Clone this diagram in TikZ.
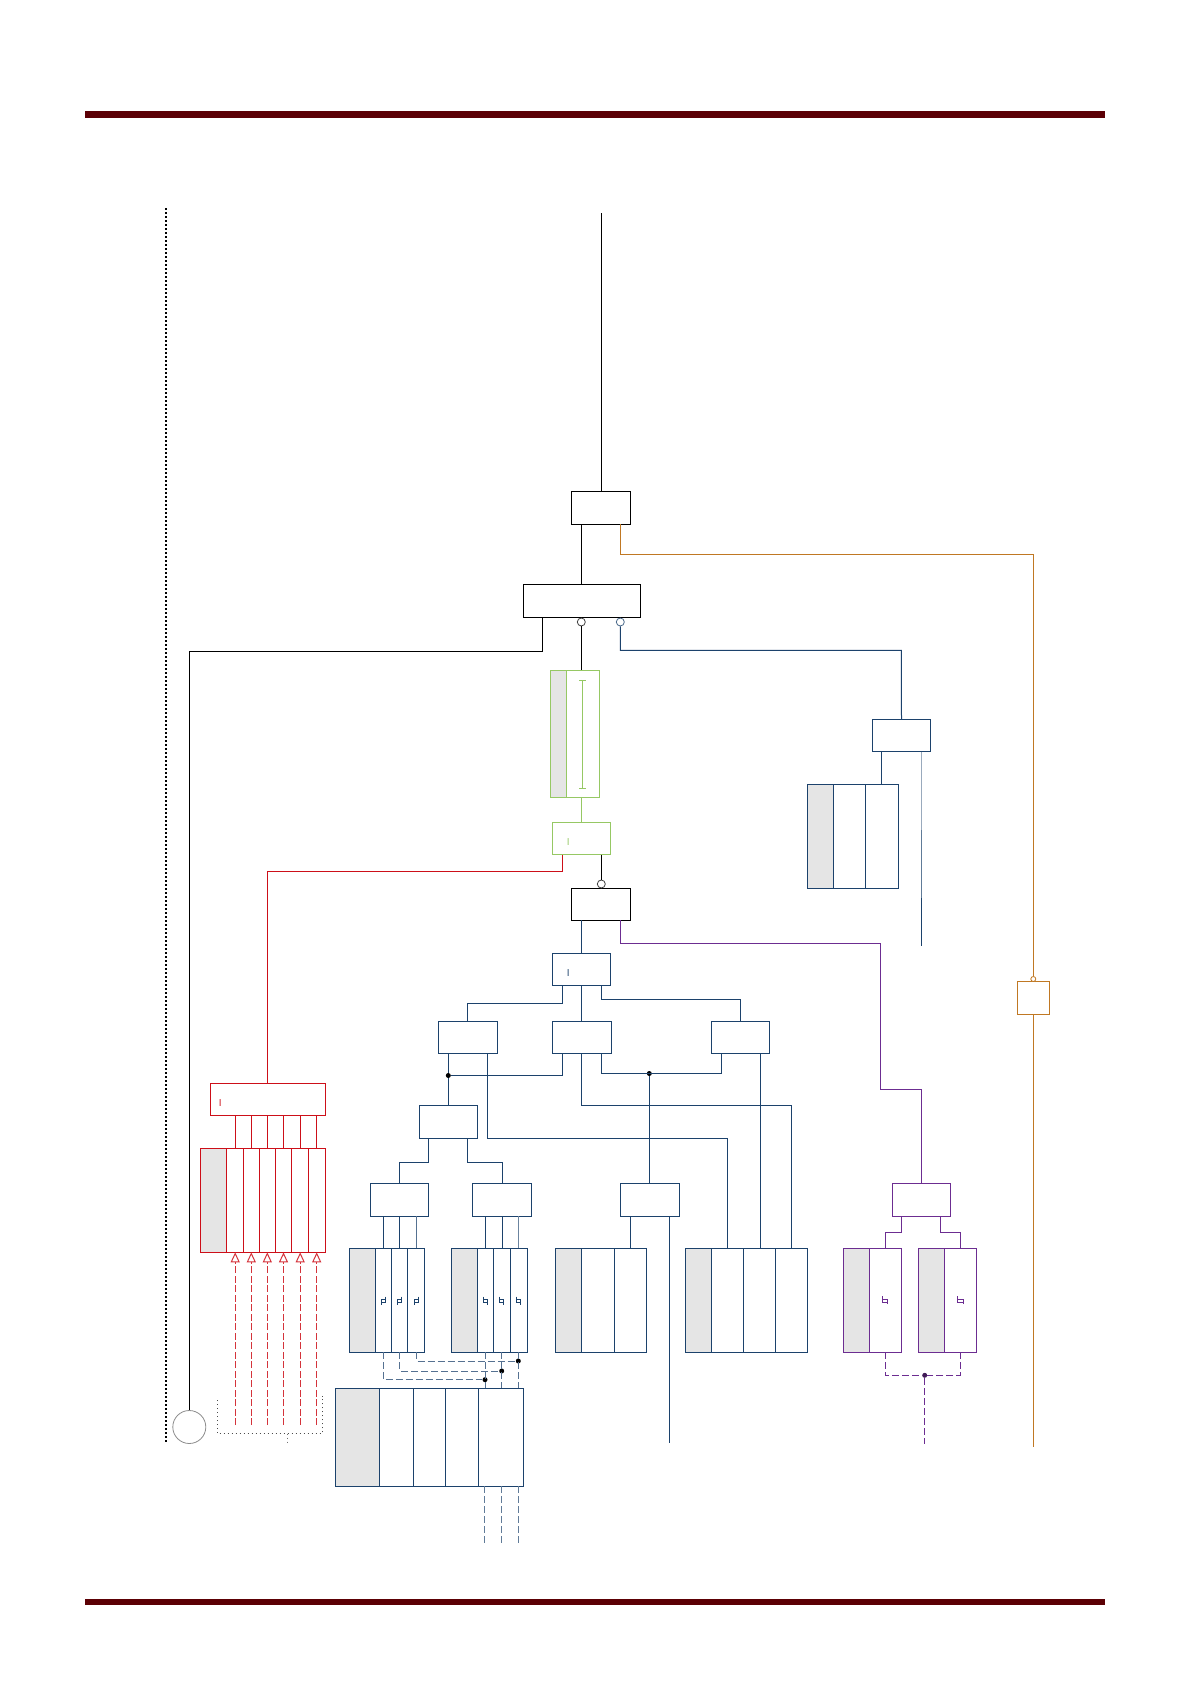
\documentclass[tikz,border=0pt]{standalone}
\usetikzlibrary{arrows.meta}
\definecolor{navyline}{RGB}{28,66,108}
\definecolor{redline}{RGB}{205,15,25}
\definecolor{greenline}{RGB}{150,200,100}
\definecolor{orangeline}{RGB}{192,120,35}
\definecolor{purpleline}{RGB}{108,45,145}
\definecolor{rulered}{RGB}{92,0,5}
\definecolor{shadecell}{RGB}{229,229,229}
\tikzset{
    wire/.style={line width=1pt},
    block/.style={draw, line width=1pt, inner sep=0pt, outer sep=0pt, minimum width=58.5pt, minimum height=32.5pt},
    cell/.style={draw, line width=1pt, inner sep=0pt, outer sep=0pt},
    bubble/.style={circle, draw, line width=.8pt, fill=white, inner sep=0pt, minimum size=8pt},
    joint/.style={circle, fill=black, inner sep=0pt, minimum size=5pt},
    dashwire/.style={line width=1pt, dash pattern=on 7pt off 3pt},
    tickmark/.style={font=\sffamily\fontsize{10}{10}\selectfont, inner sep=0pt},
    hystmark/.pic={
        \draw[line width=.8pt] (-2,4) -- (-2,-1) -- (2,-1);
        \draw[line width=.8pt] (2,-4) -- (2,2) -- (-2,2);
    }
}
% name, colour, left, shade edge, right, top, bottom
\newcommand{\regstack}[7]{
    \node[cell, draw=#2, fill=shadecell, minimum width={#4-#3}, minimum height={#7-#6}] (#1s) at ({(#3+#4)/2},{(#6+#7)/2}) {};
    \node[cell, draw=#2, minimum width={#5-#4}, minimum height={#7-#6}] (#1) at ({(#4+#5)/2},{(#6+#7)/2}) {};
}
\begin{document}
\begin{tikzpicture}[x=1pt, y=-1pt]
    \useasboundingbox (0,0) rectangle (1190,1684);
    \fill[rulered] (85,111) rectangle (1105.3,118);
    \fill[rulered] (85,1599) rectangle (1105.3,1605.3);
    \draw[line width=1.8pt, dash pattern=on 2pt off 2pt] (166.3,208) -- (166.3,1443);

    % upper blocks
    \node[block, minimum width=59pt] (main) at (600.8,507.8) {};
    \node[block, minimum width=117pt] (bus) at (581.8,600.8) {};
    \node[bubble, draw=black!75] (busa) at (581.3,622) {};
    \node[bubble, draw=navyline!80] (busb) at (620.3,622) {};
    \coordinate (feed) at (601.3,213);
    \draw[wire] (feed) -- (feed |- main.north);
    \draw[wire] (581.3,0 |- main.south) -- (581.3,0 |- bus.north);
    \node[cell, draw=greenline, fill=shadecell, minimum width=16pt, minimum height=127pt] (memgs) at (558.3,733.8) {};
    \node[cell, draw=greenline, minimum width=33pt, minimum height=127pt] (memg) at (582.8,733.8) {};
    \draw[greenline, wire] (582.3,680.3) -- (582.3,788.3);
    \draw[greenline, wire] (579,680.3) -- (585.6,680.3);
    \draw[greenline, wire] (579,788.3) -- (585.6,788.3);
    \draw[wire] (busa) -- (581.3,0 |- memg.north);
    \node[block, draw=greenline] (gate) at (581.5,838.3) {};
    \node[tickmark, greenline] (gatemark) at (568.3,842) {I};
    \draw[greenline, wire] (581.3,0 |- memg.south) -- (581.3,0 |- gate.north);
    \node[block, minimum width=59pt, minimum height=32pt] (ctrl) at (600.8,904.3) {};
    \node[bubble, draw=black!75] (ctrla) at (601.3,884) {};
    \draw[wire] (601.3,0 |- gate.south) -- (ctrla);
    \node[block, draw=navyline] (dec) at (581.5,969.3) {};
    \node[tickmark, navyline] (decmark) at (568.3,973) {I};
    \draw[navyline, wire] (581.3,0 |- ctrl.south) -- (581.3,0 |- dec.north);

    % black feed to the pin, gray circle
    \node[circle, draw=black!45, line width=.8pt, inner sep=0pt, minimum size=33pt] (pin) at (189.3,1427) {};
    \draw[wire] (542.3,0 |- bus.south) -- (542.3,651.3) -- (189.3,651.3) -- (pin.north);

    % orange branch
    \node[block, draw=orangeline, minimum width=32.5pt, minimum height=33pt] (clk) at (1033.5,997.8) {};
    \node[bubble, draw=orangeline, fill=white, minimum size=5pt] (clka) at (1033.3,979) {};
    \coordinate (clkout) at (1033.3,1447);
    \draw[orangeline, wire] (620.3,0 |- main.south) -- (620.3,554.3) -- (1033.3,554.3) -- (clka);
    \draw[orangeline, wire] (1033.3,0 |- clk.south) -- (clkout);

    % right navy block and register
    \node[block, draw=navyline] (side) at (901.5,735.3) {};
    \regstack{sidereg}{navyline}{807.3}{833.3}{898.3}{784.3}{888.3}
    \draw[navyline, wire] (865.3,784.3) -- (865.3,888.3);
    \draw[navyline, wire] (busb) -- (620.3,650.3) -- (901.3,650.3) -- (side.north);
    \draw[navyline, wire] (881.3,0 |- side.south) -- (881.3,0 |- sidereg.north);
    \coordinate (sidea) at (921,830);
    \coordinate (sideb) at (921,898);
    \coordinate (sidec) at (921,946);
    \draw[navyline!45, wire] (921,0 |- side.south) -- (sidea);
    \draw[navyline!70, wire] (sidea) -- (sideb);
    \draw[navyline, wire] (sideb) -- (sidec);

    % red group
    \node[block, draw=redline, minimum width=115pt, minimum height=32pt] (irq) at (267.8,1099.3) {};
    \node[tickmark, redline] (irqmark) at (220.3,1103) {I};
    \regstack{irqreg}{redline}{200.7}{226.3}{325.3}{1148.3}{1252.3}
    \foreach \xdiv in {243.3,259.3,275.3,291.3,308.3}
        \draw[redline, wire] (\xdiv,1148.3) -- (\xdiv,1252.3);
    \draw[redline, wire] (562.3,0 |- gate.south) -- (562.3,871.3) -- (267.4,871.3) -- (267.4,0 |- irq.north);
    \foreach \xline in {235.2,251.3,267.3,283.5,300.2,316.7} {
        \draw[redline, wire] (\xline,0 |- irq.south) -- (\xline,0 |- irqreg.north);
        \coordinate (irqin) at (\xline,1425);
        \draw[redline!85, line width=1.3pt, dash pattern=on 7pt off 2.5pt, -{Triangle[open, length=10pt, width=9pt, line width=1pt]}] (irqin) -- (\xline,0 |- irqreg.south);
    }
    \coordinate (bracka) at (217.3,1400);
    \coordinate (brackb) at (217.3,1433.7);
    \coordinate (brackc) at (322.3,1433.7);
    \coordinate (brackd) at (322.3,1396);
    \coordinate (bracke) at (287,1433.7);
    \coordinate (brackf) at (287,1445);
    \draw[black!70, line width=1pt, dash pattern=on 1pt off 3pt] (bracka) -- (brackb) -- (brackc) -- (brackd);
    \draw[black!55, line width=1pt, dash pattern=on 1pt off 3pt] (bracke) -- (brackf);

    % navy tree
    \node[block, draw=navyline, minimum width=59pt, minimum height=32pt] (left) at (467.8,1037.3) {};
    \node[block, draw=navyline, minimum width=59pt, minimum height=32pt] (mid) at (581.8,1037.3) {};
    \node[block, draw=navyline, minimum width=58pt, minimum height=32pt] (right) at (740.3,1037.3) {};
    \node[block, draw=navyline, minimum width=58pt, minimum height=33pt] (sub) at (448.3,1121.8) {};
    \node[block, draw=navyline, minimum width=58pt, minimum height=33pt] (suba) at (399.3,1199.8) {};
    \node[block, draw=navyline, minimum width=59pt, minimum height=33pt] (subb) at (501.8,1199.8) {};
    \node[block, draw=navyline, minimum width=59pt, minimum height=33pt] (subc) at (649.8,1199.8) {};
    \node[joint] (jointl) at (448.3,1075.5) {};
    \node[joint] (jointr) at (649.3,1073.5) {};
    \draw[navyline, wire] (562.3,0 |- dec.south) -- (562.3,1003.3) -- (467.3,1003.3) -- (467.3,0 |- left.north);
    \draw[navyline, wire] (581.5,0 |- dec.south) -- (581.5,0 |- mid.north);
    \draw[navyline, wire] (601.3,0 |- dec.south) -- (601.3,999.3) -- (740.3,999.3) -- (740.3,0 |- right.north);
    \draw[navyline, wire] (448.3,0 |- left.south) -- (jointl) -- (448.3,0 |- sub.north);
    \draw[navyline, wire] (562.3,0 |- mid.south) -- (562.3,1075.5) -- (jointl);
    \draw[navyline, wire] (601.3,0 |- mid.south) -- (601.3,1073.5) -- (721.3,1073.5) -- (721.3,0 |- right.south);
    \draw[navyline, wire] (jointr) -- (649.3,0 |- subc.north);
    \draw[navyline, wire] (428.3,0 |- sub.south) -- (428.3,1162.3) -- (399.3,1162.3) -- (399.3,0 |- suba.north);
    \draw[navyline, wire] (467.3,0 |- sub.south) -- (467.3,1162.3) -- (502.3,1162.3) -- (502.3,0 |- subb.north);

    % registers on the navy tree
    \regstack{rega}{navyline}{349.3}{375.3}{424.3}{1248.3}{1352.3}
    \regstack{regb}{navyline}{451.3}{477.3}{527.3}{1248.3}{1352.3}
    \regstack{regc}{navyline}{555.3}{581.3}{646.3}{1248.3}{1352.3}
    \regstack{regd}{navyline}{685.3}{711.3}{807.3}{1248.3}{1352.3}
    \regstack{rege}{navyline}{335.3}{379.3}{523.3}{1388.3}{1486.3}
    \foreach \xdiv in {391.3,407.3,493.3,510.3,614.3,743.3,775.3}
        \draw[navyline, wire] (\xdiv,1248.3) -- (\xdiv,1352.3);
    \foreach \xdiv in {413.3,445.3,478.3}
        \draw[navyline, wire] (\xdiv,1388.3) -- (\xdiv,1486.3);
    \foreach \xline in {383.3,399.3}
        \draw[navyline, wire] (\xline,0 |- suba.south) -- (\xline,0 |- rega.north);
    \draw[navyline!75, wire] (416.3,0 |- suba.south) -- (416.3,0 |- rega.north);
    \foreach \xline in {485.3,502.3}
        \draw[navyline, wire] (\xline,0 |- subb.south) -- (\xline,0 |- regb.north);
    \draw[navyline!65, wire] (518.3,0 |- subb.south) -- (518.3,0 |- regb.north);
    \draw[navyline, wire] (630.3,0 |- subc.south) -- (630.3,0 |- regc.north);
    \coordinate (subcout) at (669.3,1443.3);
    \draw[navyline, wire] (669.3,0 |- subc.south) -- (subcout);
    \draw[navyline, wire] (487.3,0 |- left.south) -- (487.3,1138.3) -- (727.3,1138.3) -- (727.3,0 |- regd.north);
    \draw[navyline, wire] (581.5,0 |- mid.south) -- (581.5,1105.3) -- (791.3,1105.3) -- (791.3,0 |- regd.north);
    \draw[navyline, wire] (760.3,0 |- right.south) -- (760.3,0 |- regd.north);
    \foreach \xmark in {383,399,416}
        \pic[navyline] at (\xmark,1300.7) {hystmark};
    \foreach \xmark in {485,501.5,518}
        \pic[navyline, xscale=-1] at (\xmark,1300.7) {hystmark};

    % dashed links between registers
    \node[joint] (linka) at (485,1379.7) {};
    \node[joint] (linkb) at (501.7,1371) {};
    \node[joint] (linkc) at (518.3,1361) {};
    \draw[navyline!75, dashwire] (383.3,0 |- rega.south) -- (383.3,1379.7) -- (linka);
    \draw[navyline!75, dashwire] (399.7,0 |- rega.south) -- (399.7,1371) -- (linkb);
    \draw[navyline!75, dashwire] (416.3,0 |- rega.south) -- (416.3,1361) -- (linkc);
    \foreach \xline in {485,501.7,518.3}
        \draw[navyline!75, dashwire] (\xline,0 |- regb.south) -- (\xline,0 |- rege.north);
    \foreach \xline in {484.7,501,518} {
        \coordinate (regeout) at (\xline,1542.7);
        \draw[navyline!70, dashwire] (\xline,0 |- rege.south) -- (regeout);
    }

    % purple branch
    \node[block, draw=purpleline, minimum width=58pt, minimum height=33pt] (tim) at (921.3,1199.8) {};
    \regstack{timl}{purpleline}{843.3}{869.3}{901.7}{1248.3}{1352.3}
    \regstack{timr}{purpleline}{918.3}{944.3}{976.7}{1248.3}{1352.3}
    \draw[purpleline, wire] (620.3,0 |- ctrl.south) -- (620.3,943.3) -- (880.7,943.3) -- (880.7,1089) -- (921.3,1089) -- (tim.north);
    \draw[purpleline, wire] (901.3,0 |- tim.south) -- (901.3,1232.3) -- (885.3,1232.3) -- (885.3,0 |- timl.north);
    \draw[purpleline, wire] (940.3,0 |- tim.south) -- (940.3,1232.3) -- (960.3,1232.3) -- (960.3,0 |- timr.north);
    \pic[purpleline, xscale=-1.3] at (885,1300) {hystmark};
    \pic[purpleline, xscale=-1.5] at (960,1300) {hystmark};
    \node[joint, fill=purpleline!60!black] (timjoint) at (924.7,1375.3) {};
    \coordinate (timout) at (924.7,1444);
    \draw[purpleline, dashwire] (885.3,0 |- timl.south) -- (885.3,1375.3) -- (timjoint);
    \draw[purpleline, dashwire] (960.3,0 |- timr.south) -- (960.3,1375.3) -- (timjoint);
    \draw[purpleline, dashwire] (timjoint) -- (timout);
\end{tikzpicture}
\end{document}
